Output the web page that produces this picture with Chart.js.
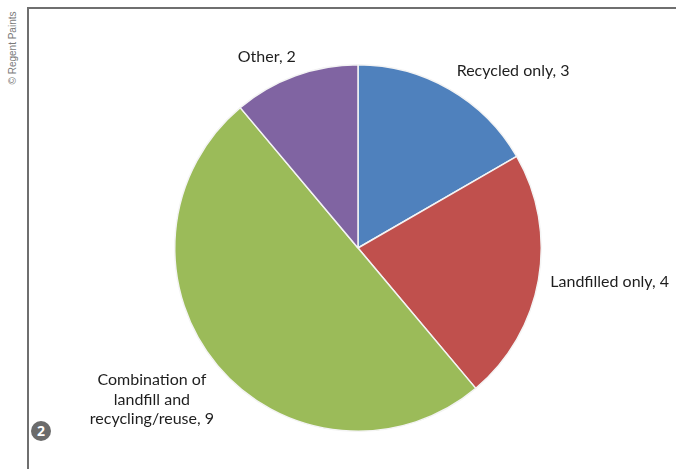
<!DOCTYPE html>
<html>
<head>
<meta charset="utf-8">
<script src="https://cdn.jsdelivr.net/npm/chart.js@4"></script>
<style>
  html, body { margin: 0; padding: 0; background: #fff; }
  #wrap { position: relative; width: 676px; height: 469px; overflow: hidden; }
  #frame { position: absolute; left: 27px; top: 7px; width: 700px; height: 500px;
           border-left: 2px solid #6f6f6f; border-top: 2px solid #6f6f6f; }
  #credit { position: absolute; left: 12px; top: 48px; transform: translate(-50%, -50%) rotate(-90deg);
            font: 10px "Liberation Sans", sans-serif; color: #7a7a7a; white-space: nowrap; }
  #badge { position: absolute; left: 31px; top: 421px; width: 20px; height: 20px; border-radius: 50%;
           background: #6b6b6b; color: #fff; font: bold 14px "Open Sans", sans-serif;
           text-align: center; line-height: 20px; }
  canvas { position: absolute; left: 0; top: 0; }
</style>
</head>
<body>
<div id="wrap">
  <div id="frame"></div>
  <div id="credit">© Regent Paints</div>
  <div id="badge">2</div>
  <canvas id="pie" width="676" height="469"></canvas>
</div>
<script>
const categories = ['Recycled only', 'Landfilled only', ['Combination of', 'landfill and', 'recycling/reuse'], 'Other'];
const counts = [3, 4, 9, 2];
const colors = ['#4f81bd', '#c0504d', '#9bbb59', '#8064a2'];

// labels outside the slices, placed from each arc's mid angle
const outsideLabels = {
  id: 'outsideLabels',
  afterDatasetsDraw(chart) {
    const ctx = chart.ctx;
    const arcs = chart.getDatasetMeta(0).data;
    ctx.save();
    ctx.font = '16px Lato, sans-serif';
    ctx.fillStyle = '#1e1e1e';
    const lineH = 19.5;
    arcs.forEach((arc, i) => {
      const mid = (arc.startAngle + arc.endAngle) / 2;
      const r = arc.outerRadius + 10;
      const x = arc.x + Math.cos(mid) * r;
      const y = arc.y + Math.sin(mid) * r;
      let lines = Array.isArray(categories[i]) ? categories[i].slice() : [categories[i]];
      lines[lines.length - 1] += ', ' + counts[i];
      const up = -Math.sin(mid);
      const widths = lines.map(l => ctx.measureText(l).width);
      const blockW = Math.max(...widths);
      const left = x > arc.x ? x + 2 : x - blockW + 4;
      const blockH = lines.length * lineH;
      let top;
      if (up > 0.3) top = y - blockH;
      else if (up < -0.3) top = y - 2;
      else top = y - blockH / 2;
      ctx.textBaseline = 'middle';
      ctx.textAlign = 'center';
      lines.forEach((l, j) => {
        ctx.fillText(l, left + blockW / 2, top + lineH * j + lineH / 2);
      });
    });
    ctx.restore();
  }
};

new Chart(document.getElementById('pie').getContext('2d'), {
  type: 'pie',
  data: {
    labels: categories.map(c => Array.isArray(c) ? c.join(' ') : c),
    datasets: [{
      data: counts,
      backgroundColor: colors,
      borderColor: '#f4f4f4',
      borderWidth: 1.5
    }]
  },
  options: {
    responsive: false,
    animation: false,
    layout: { padding: { left: 174, right: 134, top: 64, bottom: 37 } },
    plugins: { legend: { display: false }, tooltip: { enabled: false } }
  },
  plugins: [outsideLabels]
});
</script>
</body>
</html>
